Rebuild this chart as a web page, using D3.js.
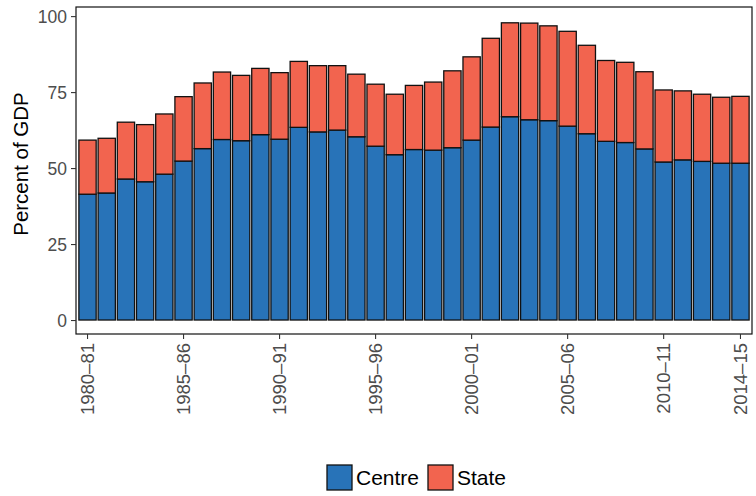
<!DOCTYPE html>
<html>
<head>
<meta charset="utf-8">
<script src="https://cdn.jsdelivr.net/npm/d3@7"></script>
<style>
  body { margin: 0; background: #fff; }
  text { font-family: "Liberation Sans", Arial, sans-serif; }
</style>
</head>
<body>
<div id="chart"></div>
<script>
// Centre vs State share of GDP, stacked bars

const WIDTH = 756;
const HEIGHT = 496;

const years = [
  "1980-81", "1981-82", "1982-83", "1983-84", "1984-85", "1985-86", "1986-87",
  "1987-88", "1988-89", "1989-90", "1990-91", "1991-92", "1992-93", "1993-94",
  "1994-95", "1995-96", "1996-97", "1997-98", "1998-99", "1999-00", "2000-01",
  "2001-02", "2002-03", "2003-04", "2004-05", "2005-06", "2006-07", "2007-08",
  "2008-09", "2009-10", "2010-11", "2011-12", "2012-13", "2013-14", "2014-15"
];

const centre = [
  41.4, 41.8, 46.4, 45.5, 48.0, 52.3, 56.4, 59.4, 59.0, 61.0, 59.5, 63.4,
  61.9, 62.5, 60.3, 57.2, 54.4, 56.1, 55.9, 56.7, 59.2, 63.5, 66.9, 65.9,
  65.6, 63.8, 61.3, 58.8, 58.4, 56.3, 52.0, 52.7, 52.2, 51.6, 51.6
];

const total = [
  59.2, 59.8, 65.1, 64.3, 67.8, 73.5, 78.0, 81.6, 80.5, 82.8, 81.4, 85.1,
  83.7, 83.7, 80.9, 77.6, 74.3, 77.2, 78.3, 82.0, 86.6, 92.7, 97.8, 97.7,
  96.8, 95.0, 90.4, 85.4, 84.8, 81.7, 75.7, 75.4, 74.3, 73.3, 73.6
];

const state = total.map((t, i) => +(t - centre[i]).toFixed(1));

const xTickLabels = ["1980-81", "1985-86", "1990-91", "1995-96", "2000-01", "2005-06", "2010-11", "2014-15"];
const yTicks = [0, 25, 50, 75, 100];

const seriesNames = ["Centre", "State"];
const colors = { Centre: "#2873b8", State: "#f2644f" };

const panel = { left: 76, right: 752, top: 7, bottom: 334 };

const svg = d3.select("#chart")
  .append("svg")
  .attr("width", WIDTH)
  .attr("height", HEIGHT);

const rows = years.map((y, i) => ({ year: y, Centre: centre[i], State: state[i] }));
const stacked = d3.stack().keys(seriesNames)(rows);

// discrete x with ggplot-ish 0.6 unit expansion
const step = (panel.right - panel.left) / (years.length + 0.2);
const x = d3.scaleBand()
  .domain(years)
  .range([panel.left + 0.1 * step, panel.right - 0.1 * step])
  .paddingInner(0.1)
  .paddingOuter(0.05);

const y = d3.scaleLinear()
  .domain([-4.6, 103])
  .range([panel.bottom, panel.top]);

// bars
svg.append("g")
  .selectAll("g")
  .data(stacked)
  .join("g")
  .attr("fill", (s) => colors[s.key])
  .selectAll("rect")
  .data((s) => s)
  .join("rect")
  .attr("x", (d) => x(d.data.year))
  .attr("width", x.bandwidth())
  .attr("y", (d) => y(d[1]))
  .attr("height", (d) => y(d[0]) - y(d[1]))
  .attr("stroke", "#111")
  .attr("stroke-width", 1.3);

// panel border
svg.append("rect")
  .attr("x", panel.left)
  .attr("y", panel.top)
  .attr("width", panel.right - panel.left)
  .attr("height", panel.bottom - panel.top)
  .attr("fill", "none")
  .attr("stroke", "#111")
  .attr("stroke-width", 1.2);

// y axis
const yAxis = svg.append("g")
  .attr("transform", `translate(${panel.left},0)`)
  .call(d3.axisLeft(y).tickValues(yTicks).tickSize(5).tickPadding(4));
yAxis.select(".domain").remove();
yAxis.selectAll("line").attr("stroke", "#333").attr("stroke-width", 1.1);
yAxis.selectAll("text")
  .attr("fill", "#4d4d4d")
  .style("font-size", "17.5px")
  .attr("dy", "0.35em");

// x axis
const xAxis = svg.append("g")
  .attr("transform", `translate(0,${panel.bottom})`)
  .call(d3.axisBottom(x).tickValues(xTickLabels).tickSize(5).tickFormat((d) => d.replace("-", "\u2013")));
xAxis.select(".domain").remove();
xAxis.selectAll("line").attr("stroke", "#333").attr("stroke-width", 1.1);
xAxis.selectAll("text")
  .attr("fill", "#4d4d4d")
  .style("font-size", "18.5px")
  .attr("transform", "rotate(-90)")
  .attr("text-anchor", "end")
  .attr("x", -9)
  .attr("y", 0)
  .attr("dy", "0.35em");

// y title
svg.append("text")
  .attr("transform", `translate(28,164) rotate(-90)`)
  .attr("text-anchor", "middle")
  .attr("fill", "#000")
  .style("font-size", "20.5px")
  .text("Percent of GDP");

// legend
const legend = svg.append("g").attr("transform", "translate(327,465)");
const legendItems = [
  { key: "Centre", x: 0 },
  { key: "State", x: 101 }
];
legendItems.forEach((it) => {
  legend.append("rect")
    .attr("x", it.x)
    .attr("y", 0)
    .attr("width", 25)
    .attr("height", 25)
    .attr("fill", colors[it.key])
    .attr("stroke", "#111")
    .attr("stroke-width", 1.3);
  legend.append("text")
    .attr("x", it.x + 29)
    .attr("y", 13)
    .attr("dy", "0.35em")
    .style("font-size", "21px")
    .attr("fill", "#000")
    .text(it.key);
});
</script>
</body>
</html>
